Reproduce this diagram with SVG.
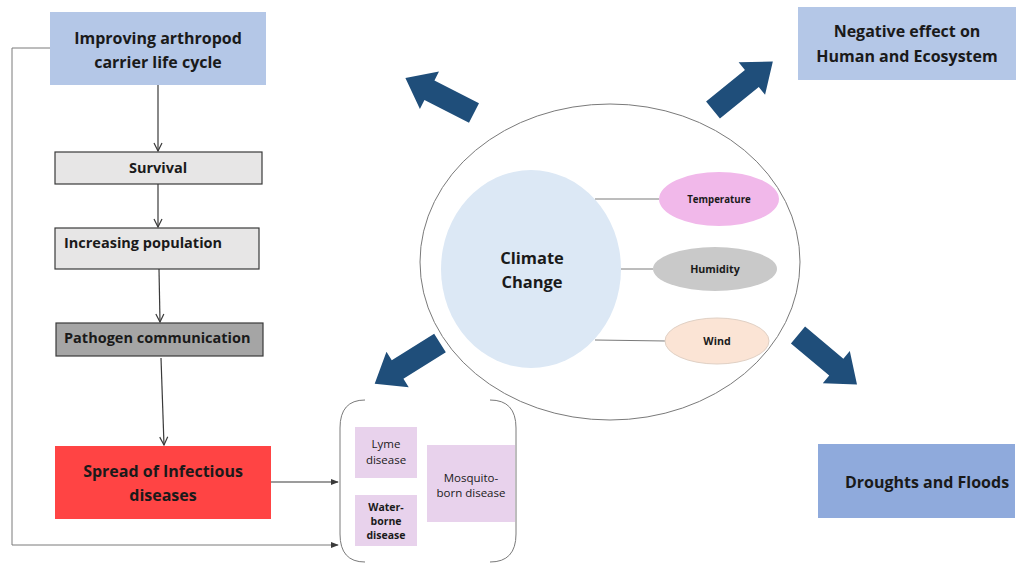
<svg xmlns="http://www.w3.org/2000/svg" width="1024" height="564" viewBox="0 0 1024 564">
<defs>
<style>
.t{font-family:"Open Sans",Lato,"Liberation Sans",sans-serif;fill:#1a1a1a;text-anchor:middle}
.b{font-weight:bold}
.h{font-size:16px}
.m{font-size:14.5px}
.conn{fill:none;stroke:#3a3a3a;stroke-width:1.2}
.thin{fill:none;stroke:#7a7a7a;stroke-width:1}
.barrow{fill:#1f4e7a}
</style>
<marker id="chev" viewBox="0 0 10 10" refX="9" refY="5" markerWidth="10" markerHeight="10" markerUnits="userSpaceOnUse" orient="auto">
<path d="M1,1 L9,5 L1,9" fill="none" stroke="#3a3a3a" stroke-width="1.2"/>
</marker>
<marker id="tri" viewBox="0 0 10 10" refX="9" refY="5" markerWidth="8" markerHeight="8" markerUnits="userSpaceOnUse" orient="auto">
<path d="M0,1 L10,5 L0,9 Z" fill="#3a3a3a"/>
</marker>
<path id="blk" d="M0,-11 L50,-11 L50,-21 L77,0 L50,21 L50,11 L0,11 Z"/>
</defs>
<rect width="1024" height="564" fill="#ffffff"/>

<g id="connectors">
<line class="conn" x1="158" y1="85" x2="158" y2="151" marker-end="url(#chev)"/>
<line class="conn" x1="158" y1="184" x2="158" y2="227" marker-end="url(#chev)"/>
<line class="conn" x1="159" y1="269" x2="160" y2="322" marker-end="url(#chev)"/>
<line class="conn" x1="161" y1="358" x2="164" y2="445" marker-end="url(#chev)"/>
<line class="conn" x1="271" y1="482" x2="338" y2="482" marker-end="url(#tri)"/>
<polyline class="thin" points="50,48 12,48 12,545 338,545" marker-end="url(#tri)"/>
<line class="thin" x1="595" y1="199" x2="659" y2="199"/>
<line class="thin" x1="621" y1="269" x2="653" y2="269"/>
<line class="thin" x1="595" y1="340" x2="666" y2="341"/>
<use href="#blk" class="barrow" transform="translate(474,113) rotate(207)"/>
<use href="#blk" class="barrow" transform="translate(713,110) rotate(-39)"/>
<use href="#blk" class="barrow" transform="translate(440,343) rotate(148)"/>
<use href="#blk" class="barrow" transform="translate(798,335) rotate(40)"/>
</g>

<g id="node-improving">
<rect x="50" y="12" width="216" height="73" fill="#b4c7e7"/>
<text class="t b h" x="158" y="44">Improving arthropod</text>
<text class="t b h" x="158" y="68">carrier life cycle</text>
</g>

<g id="node-survival">
<rect x="55" y="152" width="207" height="32" fill="#e7e6e6" stroke="#3a3a3a" stroke-width="1.2"/>
<text class="t b m" x="158" y="173">Survival</text>
</g>

<g id="node-population">
<rect x="55" y="228" width="204" height="41" fill="#e7e6e6" stroke="#3a3a3a" stroke-width="1.2"/>
<text class="t b m" x="64" y="248" style="text-anchor:start">Increasing population</text>
</g>

<g id="node-pathogen">
<rect x="56" y="323" width="207" height="33" fill="#a5a5a5" stroke="#3a3a3a" stroke-width="1.2"/>
<text class="t b m" x="64" y="343" style="text-anchor:start">Pathogen communication</text>
</g>

<g id="node-spread">
<rect x="55" y="446" width="216" height="73" fill="#ff4444"/>
<text class="t b h" x="163" y="477">Spread of Infectious</text>
<text class="t b h" x="163" y="501">diseases</text>
</g>

<g id="node-diseases">
<path class="thin" d="M365,400 Q340,400 340,428 L340,534 Q340,562 365,562"/>
<path class="thin" d="M490,400 Q516,400 516,428 L516,534 Q516,562 490,562"/>
<rect x="355" y="427" width="62" height="51" fill="#e8d2ec"/>
<text class="t" x="386" y="448" font-size="11.5">Lyme</text>
<text class="t" x="386" y="464" font-size="11.5">disease</text>
<rect x="355" y="495" width="62" height="51" fill="#e8d2ec"/>
<text class="t b" x="386" y="511" font-size="10.5">Water-</text>
<text class="t b" x="386" y="525" font-size="10.5">borne</text>
<text class="t b" x="386" y="539" font-size="10.5">disease</text>
<rect x="427" y="445" width="88" height="77" fill="#e8d2ec"/>
<text class="t" x="471" y="482" font-size="11.5">Mosquito-</text>
<text class="t" x="471" y="497" font-size="11.5">born disease</text>
</g>

<g id="node-climate">
<ellipse cx="610" cy="262" rx="190" ry="158" fill="none" stroke="#7a7a7a" stroke-width="1"/>
<ellipse cx="531" cy="269" rx="90" ry="99" fill="#dce8f5"/>
<text class="t b" x="532" y="264" font-size="16.5">Climate</text>
<text class="t b" x="532" y="288" font-size="16.5">Change</text>
</g>

<g id="node-temperature">
<ellipse cx="719" cy="199" rx="60" ry="27" fill="#f1b8ea"/>
<text class="t b" x="719" y="203" font-size="9.7">Temperature</text>
</g>

<g id="node-humidity">
<ellipse cx="715" cy="269" rx="62" ry="22" fill="#c9c9c9"/>
<text class="t b" x="715" y="273" font-size="10.7">Humidity</text>
</g>

<g id="node-wind">
<ellipse cx="717" cy="341" rx="52" ry="23" fill="#fbe4d5" stroke="#e0d0c4" stroke-width="1"/>
<text class="t b" x="717" y="345" font-size="10.7">Wind</text>
</g>

<g id="node-negative">
<rect x="798" y="7" width="218" height="73" fill="#b4c7e7"/>
<text class="t b h" x="907" y="37">Negative effect on</text>
<text class="t b h" x="907" y="62">Human and Ecosystem</text>
</g>

<g id="node-droughts">
<rect x="818" y="444" width="197" height="74" fill="#8faadc"/>
<text class="t b h" x="927" y="488">Droughts and Floods</text>
</g>
</svg>
